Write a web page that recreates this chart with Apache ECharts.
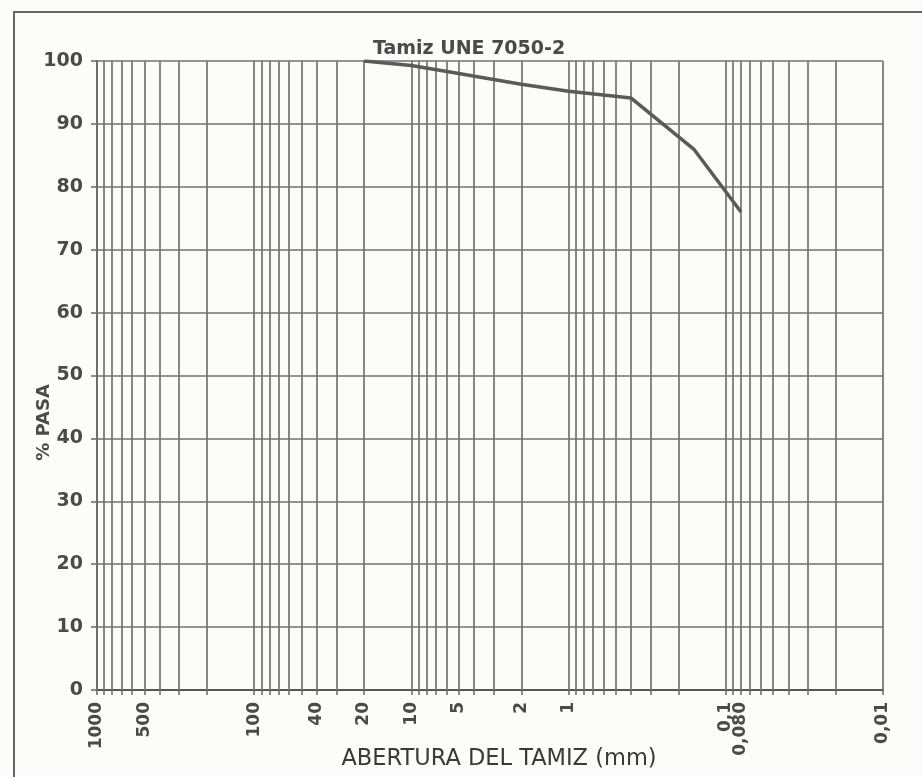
<!DOCTYPE html>
<html>
<head>
<meta charset="utf-8">
<script src="https://cdn.jsdelivr.net/npm/echarts@6/dist/echarts.min.js"></script>
<style>
html,body{margin:0;padding:0;background:#fcfcfb;}
#chart{width:922px;height:777px;}
</style>
</head>
<body>
<div id="chart"></div>
<script>
// Sieve openings (mm) and % passing
const sieveSizes = [20, 10, 5, 2, 1, 0.4, 0.16, 0.08];
const percentPassing = [100, 99.3, 98.0, 96.3, 95.2, 94.1, 86.0, 76.0];

// X tick labels
const xTickValues = [1000, 500, 100, 40, 20, 10, 5, 2, 1, 0.1, 0.08, 0.01];
const xTickLabels = ['1000', '500', '100', '40', '20', '10', '5', '2', '1', '0,1', '0,080', '0,01'];

// Log grid lines: 1..9 x 10^k
const decades = [0.01, 0.1, 1, 10, 100];
const multipliers = [1, 2, 3, 4, 5, 6, 7, 8, 9];
const gridValues = [];
decades.forEach(d => multipliers.forEach(m => gridValues.push(+(m * d).toPrecision(3))));
gridValues.push(1000);

const titleText = 'Tamiz UNE 7050-2';
const xName = 'ABERTURA DEL TAMIZ (mm)';
const yName = '% PASA';

function labelFor(v) {
  let best = 0, bd = Infinity;
  xTickValues.forEach((t, i) => {
    const d = Math.abs(Math.log10(t) - Math.log10(v));
    if (d < bd) { bd = d; best = i; }
  });
  return bd < 0.01 ? xTickLabels[best] : '';
}

const chart = echarts.init(document.getElementById('chart'));
const gridColor = '#727272';
chart.setOption({
  backgroundColor: '#fcfcfb',
  animation: false,
  title: {
    text: titleText,
    left: 464, top: 35, textAlign: 'center',
    textStyle: {fontFamily: 'DejaVu Sans', fontWeight: 'bold', fontSize: 19, color: '#4a4a4a'}
  },
  graphic: [{
    type: 'polyline', silent: true,
    shape: {points: [[14, 800], [14, 12], [930, 12]]},
    style: {stroke: '#666', lineWidth: 2, fill: null}
  }],
  grid: {left: 97, right: 39, top: 61, bottom: 87, show: false},
  xAxis: {
    type: 'log', logBase: 10, min: 0.01, max: 1000, inverse: true,
    name: xName, nameLocation: 'middle', nameGap: 58, nameMoveOverlap: false,
    nameTextStyle: {fontFamily: 'DejaVu Sans', fontSize: 22.5, color: '#3a3a3a', padding: [0, 0, 0, 18]},
    axisLine: {show: true, lineStyle: {color: '#555', width: 2}},
    axisTick: {show: true, customValues: gridValues, length: 5, lineStyle: {color: '#666', width: 1.5}},
    axisLabel: {
      customValues: xTickValues, rotate: 90, margin: 12,
      fontFamily: 'DejaVu Sans', fontWeight: 'bold', fontSize: 17, color: '#4a4a4a',
      formatter: v => labelFor(v)
    },
    splitLine: {show: false},
    minorTick: {show: false}, minorSplitLine: {show: false}
  },
  yAxis: {
    type: 'value', min: 0, max: 100, interval: 10,
    name: yName, nameLocation: 'middle', nameGap: 44, nameRotate: 90, nameMoveOverlap: false,
    nameTextStyle: {fontFamily: 'DejaVu Sans', fontWeight: 'bold', fontSize: 18, color: '#4a4a4a', padding: [0, 94, 0, 0]},
    axisLine: {show: true, lineStyle: {color: '#555', width: 2}},
    axisTick: {show: true, inside: false, length: 6, lineStyle: {color: '#666', width: 1.5}},
    axisLabel: {margin: 14, fontFamily: 'DejaVu Sans', fontWeight: 'bold', fontSize: 19, color: '#4a4a4a'},
    splitLine: {show: true, lineStyle: {color: gridColor, width: 1.5}}
  },
  series: [
    {
      type: 'line', name: 'grid', data: [], silent: true, z: 1,
      markLine: {
        silent: true, symbol: 'none', label: {show: false}, animation: false,
        lineStyle: {type: 'solid', color: gridColor, width: 1.7},
        data: gridValues.map(v => ({xAxis: v}))
      }
    },
    {
      type: 'line', name: 'curva', z: 5,
      data: sieveSizes.map((s, i) => [s, percentPassing[i]]),
      symbol: 'none', smooth: false,
      lineStyle: {color: '#5a5a5a', width: 3.5}
    }
  ]
});
</script>
</body>
</html>
